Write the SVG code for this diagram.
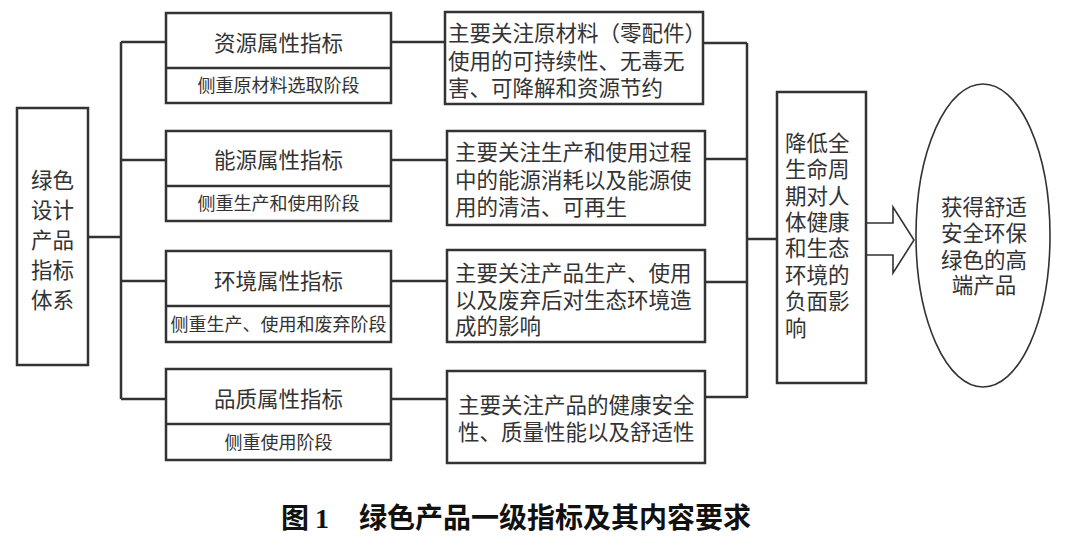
<svg xmlns="http://www.w3.org/2000/svg" width="1074" height="547" viewBox="0 0 1074 547">
<style>
.box{fill:#fff;stroke:#333;stroke-width:2.5}
.ln{fill:none;stroke:#333;stroke-width:2.5}
.thin{fill:#fff;stroke:#333;stroke-width:1.6}
text{font-family:"Noto Sans CJK SC","Noto Sans CJK JP",sans-serif;fill:#333}
.t{font-size:21.5px}
.s{font-size:18px}
.c{text-anchor:middle}
.cap{font-size:28px;font-weight:bold;fill:#111}
</style>
<rect width="1074" height="547" fill="#fff"/>
<g id="connectors">
<path class="ln" d="M88,237H121M121,42V399M121,42H166M121,160H166M121,281H166M121,399H166"/>
<path class="ln" d="M391,42H445M391,160H447M391,281H447M391,399H447"/>
<path class="ln" d="M703,43H747M705,159H747M705,282H747M705,397H747M747,43V398M747,239H777"/>
<polygon class="thin" points="866,223 893,223 893,207 914,240 893,273 893,255 866,255"/>
</g>
<g id="root">
<rect class="box" x="17" y="108" width="71" height="257"/>
<text class="t c" x="52.5" y="188">绿色</text>
<text class="t c" x="52.5" y="218">设计</text>
<text class="t c" x="52.5" y="248">产品</text>
<text class="t c" x="52.5" y="278">指标</text>
<text class="t c" x="52.5" y="308">体系</text>
</g>
<g id="attr1">
<rect class="box" x="166" y="13" width="225" height="90"/>
<line class="ln" x1="166" y1="68" x2="391" y2="68"/>
<text class="t c" x="278.5" y="51">资源属性指标</text>
<text class="s c" x="278.5" y="92">侧重原材料选取阶段</text>
</g>
<g id="attr2">
<rect class="box" x="166" y="131" width="225" height="90"/>
<line class="ln" x1="166" y1="186" x2="391" y2="186"/>
<text class="t c" x="278.5" y="168">能源属性指标</text>
<text class="s c" x="278.5" y="210">侧重生产和使用阶段</text>
</g>
<g id="attr3">
<rect class="box" x="166" y="251" width="225" height="91"/>
<line class="ln" x1="166" y1="306" x2="391" y2="306"/>
<text class="t c" x="278.5" y="289">环境属性指标</text>
<text class="s c" x="278.5" y="331">侧重生产、使用和废弃阶段</text>
</g>
<g id="attr4">
<rect class="box" x="166" y="369" width="225" height="91"/>
<line class="ln" x1="166" y1="424" x2="391" y2="424"/>
<text class="t c" x="278.5" y="407">品质属性指标</text>
<text class="s c" x="278.5" y="449">侧重使用阶段</text>
</g>
<g id="desc1">
<rect class="box" x="445" y="12" width="258" height="92"/>
<text class="t" x="448" y="41">主要关注原材料（零配件）</text>
<text class="t" x="448" y="69">使用的可持续性、无毒无</text>
<text class="t" x="448" y="96">害、可降解和资源节约</text>
</g>
<g id="desc2">
<rect class="box" x="447" y="131" width="258" height="94"/>
<text class="t" x="455" y="160">主要关注生产和使用过程</text>
<text class="t" x="455" y="188">中的能源消耗以及能源使</text>
<text class="t" x="455" y="215">用的清洁、可再生</text>
</g>
<g id="desc3">
<rect class="box" x="447" y="250" width="258" height="92"/>
<text class="t" x="455" y="281">主要关注产品生产、使用</text>
<text class="t" x="455" y="308">以及废弃后对生态环境造</text>
<text class="t" x="455" y="334">成的影响</text>
</g>
<g id="desc4">
<rect class="box" x="447" y="371" width="258" height="92"/>
<text class="t" x="458" y="413">主要关注产品的健康安全</text>
<text class="t" x="458" y="440">性、质量性能以及舒适性</text>
</g>
<g id="impact">
<rect class="box" x="777" y="92" width="89" height="291"/>
<text class="t" x="785" y="151">降低全</text>
<text class="t" x="785" y="177">生命周</text>
<text class="t" x="785" y="204">期对人</text>
<text class="t" x="785" y="230">体健康</text>
<text class="t" x="785" y="256">和生态</text>
<text class="t" x="785" y="283">环境的</text>
<text class="t" x="785" y="309">负面影</text>
<text class="t" x="785" y="336">响</text>
</g>
<g id="goal">
<ellipse class="thin" cx="983" cy="235.5" rx="67" ry="151.5"/>
<text class="t c" x="984" y="215">获得舒适</text>
<text class="t c" x="984" y="241">安全环保</text>
<text class="t c" x="984" y="268">绿色的高</text>
<text class="t c" x="984" y="293">端产品</text>
</g>
<g id="caption">
<text class="cap" x="281" y="528">图<tspan font-family="Liberation Serif,serif" dx="6">1</tspan><tspan dx="30">绿色产品一级指标及其内容要求</tspan></text>
</g>
</svg>
